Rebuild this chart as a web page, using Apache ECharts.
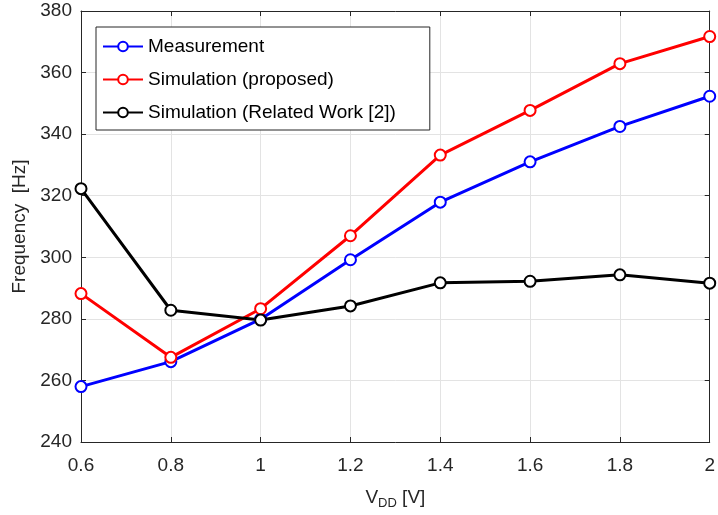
<!DOCTYPE html>
<html>
<head>
<meta charset="utf-8">
<script src="https://cdn.jsdelivr.net/npm/echarts@6/dist/echarts.min.js"></script>
<style>html,body{margin:0;padding:0;background:#fff;}#c{width:718px;height:515px;}</style>
</head>
<body>
<div id="c"></div>
<script>
const vdd = [0.6, 0.8, 1.0, 1.2, 1.4, 1.6, 1.8, 2.0];
const measurement = [258.0, 266.1, 279.9, 299.2, 317.9, 331.0, 342.5, 352.3];
const simProposed = [288.2, 267.5, 283.3, 307.0, 333.2, 347.7, 362.9, 371.7];
const simRelated = [322.3, 282.8, 279.6, 284.2, 291.7, 292.2, 294.3, 291.6];
const seriesNames = ['Measurement', 'Simulation (proposed)', 'Simulation (Related Work [2])'];
const xTickLabels = ['0.6', '0.8', '1', '1.2', '1.4', '1.6', '1.8', '2'];
const yTickLabels = ['240', '260', '280', '300', '320', '340', '360', '380'];

const FONT = '"Liberation Sans", Arial, Helvetica, sans-serif';
const AX = '#262626';
const pairs = arr => arr.map((v, i) => [vdd[i], v]);
function mk(name, arr, color) {
  return {
    name: name, type: 'line', data: pairs(arr), xAxisIndex: 0, yAxisIndex: 0,
    symbol: 'emptyCircle', symbolSize: 11,
    lineStyle: { color: color, width: 3 },
    itemStyle: { color: color, borderColor: color, borderWidth: 3 },
    emphasis: { disabled: true }, animation: false
  };
}
const chart = echarts.init(document.getElementById('c'), null, { renderer: 'canvas' });
const xLbl = v => { const i = Math.round((v - 0.6) / 0.2); return xTickLabels[i] ?? ''; };
const yLbl = v => { const i = Math.round((v - 240) / 20); return yTickLabels[i] ?? ''; };
chart.setOption({
  backgroundColor: '#fff',
  animation: false,
  grid: { left: 81, right: 5, top: 11, bottom: 71, containLabel: false },
  legend: {
    orient: 'vertical', left: 96, top: 27,
    padding: [10, 34, 8, 6],
    itemGap: 14, itemWidth: 40, itemHeight: 12,
    borderColor: AX, borderWidth: 1, backgroundColor: '#fff',
    textStyle: { fontFamily: FONT, fontSize: 19, color: '#000' },
    data: seriesNames, selectedMode: false
  },
  xAxis: [{
    type: 'value', min: 0.6, max: 2, interval: 0.2,
    axisLine: { show: true, lineStyle: { color: AX, width: 1 } },
    axisTick: { show: true, inside: true, length: 5, lineStyle: { color: AX } },
    axisLabel: { formatter: xLbl, fontFamily: FONT, fontSize: 19, color: AX, margin: 14 },
    splitLine: { show: true, lineStyle: { color: '#e3e3e3', width: 1 } },
    name: 'V{sub|DD} [V]', nameLocation: 'middle', nameGap: 43,
    nameTextStyle: { fontFamily: FONT, fontSize: 19, color: AX,
      rich: { sub: { fontFamily: FONT, fontSize: 13, color: AX, padding: [12, 0, 0, 0] } } }
  }, {
    type: 'value', min: 0.6, max: 2, interval: 0.2, position: 'top',
    axisLine: { show: true, lineStyle: { color: AX, width: 1 } },
    axisTick: { show: true, inside: true, length: 5, lineStyle: { color: AX } },
    axisLabel: { show: false }, splitLine: { show: false }
  }],
  yAxis: [{
    type: 'value', min: 240, max: 380, interval: 20,
    axisLine: { show: true, lineStyle: { color: AX, width: 1 } },
    axisTick: { show: true, inside: true, length: 5, lineStyle: { color: AX } },
    axisLabel: { formatter: yLbl, fontFamily: FONT, fontSize: 19, color: AX, margin: 9 },
    splitLine: { show: true, lineStyle: { color: '#e3e3e3', width: 1 } },
    name: 'Frequency  [Hz]', nameLocation: 'middle', nameGap: 49,
    nameTextStyle: { fontFamily: FONT, fontSize: 19, color: AX }
  }, {
    type: 'value', min: 240, max: 380, interval: 20, position: 'right',
    axisLine: { show: true, lineStyle: { color: AX, width: 1 } },
    axisTick: { show: true, inside: true, length: 5, lineStyle: { color: AX } },
    axisLabel: { show: false }, splitLine: { show: false }
  }],
  series: [
    mk(seriesNames[0], measurement, '#0000ff'),
    mk(seriesNames[1], simProposed, '#ff0000'),
    mk(seriesNames[2], simRelated, '#000000')
  ]
});
</script>
</body>
</html>
